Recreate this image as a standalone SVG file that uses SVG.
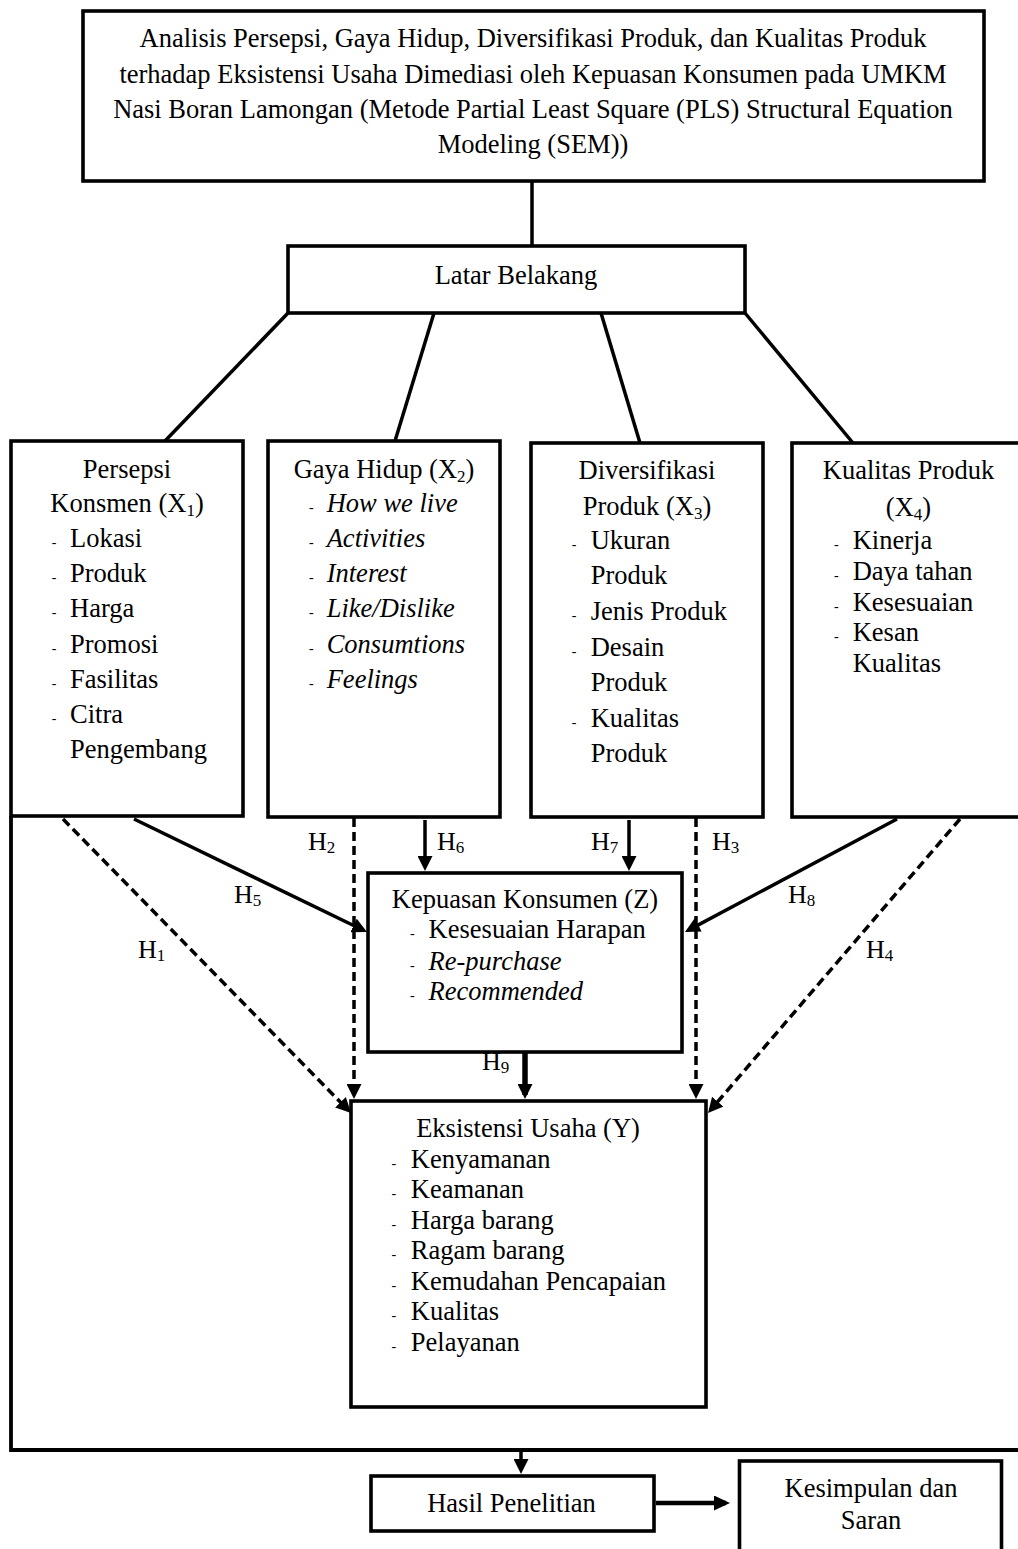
<svg xmlns="http://www.w3.org/2000/svg" width="1018" height="1549" viewBox="0 0 1018 1549">
<style>
.t{font-family:"Liberation Serif","Times New Roman",serif;font-size:26.5px;fill:#000}
.c{text-anchor:middle}
.i{font-style:italic}
.d{font-size:14px;font-style:normal}
.h{font-size:26px}
.sub{font-size:17px}
.box{fill:#fff;stroke:#000;stroke-width:3.6}
.ln{stroke:#000;stroke-width:3.5;fill:none}
.dash{stroke-dasharray:9 5}
</style>
<defs>
<marker id="ah" markerUnits="userSpaceOnUse" markerWidth="15" markerHeight="15" refX="11" refY="7.5" orient="auto">
<path d="M0,0 L15,7.5 L0,15 z" fill="#000"/>
</marker>
<marker id="ahb" markerUnits="userSpaceOnUse" markerWidth="16" markerHeight="15" refX="12" refY="7.5" orient="auto">
<path d="M0,0 L16,7.5 L0,15 z" fill="#000"/>
</marker>
</defs>

<g id="connectors">
<line class="ln" x1="532" y1="181" x2="532" y2="246"/>
<line class="ln" x1="288" y1="313" x2="165" y2="441"/>
<line class="ln" x1="434" y1="313" x2="395" y2="441"/>
<line class="ln" x1="601" y1="313" x2="640" y2="443"/>
<line class="ln" x1="745" y1="313" x2="853" y2="443"/>
<line class="ln dash" x1="63" y1="819" x2="348.2" y2="1110.1" marker-end="url(#ah)"/>
<line class="ln" x1="134" y1="819" x2="363.4" y2="930.3" marker-end="url(#ah)"/>
<line class="ln dash" x1="354" y1="818" x2="354" y2="1095" marker-end="url(#ah)"/>
<line class="ln" x1="425" y1="820" x2="425" y2="867" marker-end="url(#ah)"/>
<line class="ln" x1="629" y1="820" x2="629" y2="867" marker-end="url(#ah)"/>
<line class="ln dash" x1="696" y1="818" x2="696" y2="1095" marker-end="url(#ah)"/>
<line class="ln" x1="897" y1="819" x2="688.5" y2="930.1" marker-end="url(#ah)"/>
<line class="ln dash" x1="960" y1="819" x2="710.6" y2="1110" marker-end="url(#ah)"/>
<line class="ln" style="stroke-width:5.5" x1="525" y1="1053" x2="525" y2="1095" marker-end="url(#ah)"/>
<polyline class="ln" style="stroke-width:3.8" points="11,816 11,1450 1018,1450"/>
<line class="ln" x1="521" y1="1450" x2="521" y2="1470" marker-end="url(#ah)"/>
<line class="ln" style="stroke-width:4.5" x1="656" y1="1503" x2="726" y2="1503" marker-end="url(#ahb)"/>
<text class="t h" x="308" y="850">H<tspan class="sub" dy="3">2</tspan></text>
<text class="t h" x="437" y="850">H<tspan class="sub" dy="3">6</tspan></text>
<text class="t h" x="591" y="850">H<tspan class="sub" dy="3">7</tspan></text>
<text class="t h" x="712" y="850">H<tspan class="sub" dy="3">3</tspan></text>
<text class="t h" x="234" y="903">H<tspan class="sub" dy="3">5</tspan></text>
<text class="t h" x="788" y="903">H<tspan class="sub" dy="3">8</tspan></text>
<text class="t h" x="138" y="958">H<tspan class="sub" dy="3">1</tspan></text>
<text class="t h" x="866" y="958">H<tspan class="sub" dy="3">4</tspan></text>
<text class="t h" x="482" y="1070">H<tspan class="sub" dy="3">9</tspan></text>
</g>

<g id="judul">
<rect class="box" x="83" y="11" width="901" height="170"/>
<text class="t c" x="533" y="47">Analisis Persepsi, Gaya Hidup, Diversifikasi Produk, dan Kualitas Produk</text>
<text class="t c" x="533" y="82.5">terhadap Eksistensi Usaha Dimediasi oleh Kepuasan Konsumen pada UMKM</text>
<text class="t c" x="533" y="118">Nasi Boran Lamongan (Metode Partial Least Square (PLS) Structural Equation</text>
<text class="t c" x="533" y="153">Modeling (SEM))</text>
</g>

<g id="latar-belakang">
<rect class="box" x="288" y="246" width="457" height="67"/>
<text class="t c" x="516" y="284">Latar Belakang</text>
</g>

<g id="persepsi-konsumen">
<rect class="box" x="11" y="441" width="232" height="375"/>
<text class="t c" x="127" y="477.7">Persepsi</text>
<text class="t c" x="127" y="511.7">Konsmen (X<tspan class="sub" dy="4">1</tspan><tspan dy="-4">)</tspan></text>
<text class="t" x="51.7" y="547.3"><tspan class="d">-</tspan><tspan x="70">Lokasi</tspan></text>
<text class="t" x="51.7" y="582.3"><tspan class="d">-</tspan><tspan x="70">Produk</tspan></text>
<text class="t" x="51.7" y="617.3"><tspan class="d">-</tspan><tspan x="70">Harga</tspan></text>
<text class="t" x="51.7" y="652.7"><tspan class="d">-</tspan><tspan x="70">Promosi</tspan></text>
<text class="t" x="51.7" y="687.7"><tspan class="d">-</tspan><tspan x="70">Fasilitas</tspan></text>
<text class="t" x="51.7" y="722.7"><tspan class="d">-</tspan><tspan x="70">Citra</tspan></text>
<text class="t" x="70" y="758.3">Pengembang</text>
</g>

<g id="gaya-hidup">
<rect class="box" x="268" y="441" width="232" height="376"/>
<text class="t c" x="384" y="477.7">Gaya Hidup (X<tspan class="sub" dy="4">2</tspan><tspan dy="-4">)</tspan></text>
<text class="t" x="309" y="511.7"><tspan class="d">-</tspan><tspan class="i" x="326.7">How we live</tspan></text>
<text class="t" x="309" y="547.3"><tspan class="d">-</tspan><tspan class="i" x="326.7">Activities</tspan></text>
<text class="t" x="309" y="582.3"><tspan class="d">-</tspan><tspan class="i" x="326.7">Interest</tspan></text>
<text class="t" x="309" y="617.3"><tspan class="d">-</tspan><tspan class="i" x="326.7">Like/Dislike</tspan></text>
<text class="t" x="309" y="652.7"><tspan class="d">-</tspan><tspan class="i" x="326.7">Consumtions</tspan></text>
<text class="t" x="309" y="687.7"><tspan class="d">-</tspan><tspan class="i" x="326.7">Feelings</tspan></text>
</g>

<g id="diversifikasi-produk">
<rect class="box" x="531" y="443" width="232" height="374"/>
<text class="t c" x="647" y="479.3">Diversifikasi</text>
<text class="t c" x="647" y="515">Produk (X<tspan class="sub" dy="4">3</tspan><tspan dy="-4">)</tspan></text>
<text class="t" x="571.7" y="549.3"><tspan class="d">-</tspan><tspan x="590.7">Ukuran</tspan></text>
<text class="t" x="590.7" y="584.3">Produk</text>
<text class="t" x="571.7" y="620"><tspan class="d">-</tspan><tspan x="590.7">Jenis Produk</tspan></text>
<text class="t" x="571.7" y="656"><tspan class="d">-</tspan><tspan x="590.7">Desain</tspan></text>
<text class="t" x="590.7" y="690.7">Produk</text>
<text class="t" x="571.7" y="726.7"><tspan class="d">-</tspan><tspan x="590.7">Kualitas</tspan></text>
<text class="t" x="590.7" y="761.7">Produk</text>
</g>

<g id="kualitas-produk">
<rect class="box" x="792" y="443" width="240" height="374"/>
<text class="t c" x="908.5" y="479.3">Kualitas Produk</text>
<text class="t c" x="908.5" y="516">(X<tspan class="sub" dy="4">4</tspan><tspan dy="-4">)</tspan></text>
<text class="t" x="834" y="549.3"><tspan class="d">-</tspan><tspan x="852.7">Kinerja</tspan></text>
<text class="t" x="834" y="580"><tspan class="d">-</tspan><tspan x="852.7">Daya tahan</tspan></text>
<text class="t" x="834" y="610.5"><tspan class="d">-</tspan><tspan x="852.7">Kesesuaian</tspan></text>
<text class="t" x="834" y="641"><tspan class="d">-</tspan><tspan x="852.7">Kesan</tspan></text>
<text class="t" x="852.7" y="671.7">Kualitas</text>
</g>

<g id="kepuasan-konsumen">
<rect class="box" x="368" y="873" width="314" height="179"/>
<text class="t c" x="525" y="908.3">Kepuasan Konsumen (Z)</text>
<text class="t" x="410" y="938.3"><tspan class="d">-</tspan><tspan x="428.6">Kesesuaian Harapan</tspan></text>
<text class="t" x="410" y="969.5"><tspan class="d">-</tspan><tspan class="i" x="428.6">Re-purchase</tspan></text>
<text class="t" x="410" y="1000"><tspan class="d">-</tspan><tspan class="i" x="428.6">Recommended</tspan></text>
</g>

<g id="eksistensi-usaha">
<rect class="box" x="351" y="1101" width="355" height="306"/>
<text class="t c" x="528" y="1136.7">Eksistensi Usaha (Y)</text>
<text class="t" x="391.6" y="1167.7"><tspan class="d">-</tspan><tspan x="410.8">Kenyamanan</tspan></text>
<text class="t" x="391.6" y="1198.3"><tspan class="d">-</tspan><tspan x="410.8">Keamanan</tspan></text>
<text class="t" x="391.6" y="1228.8"><tspan class="d">-</tspan><tspan x="410.8">Harga barang</tspan></text>
<text class="t" x="391.6" y="1259"><tspan class="d">-</tspan><tspan x="410.8">Ragam barang</tspan></text>
<text class="t" x="391.6" y="1289.5"><tspan class="d">-</tspan><tspan x="410.8">Kemudahan Pencapaian</tspan></text>
<text class="t" x="391.6" y="1320.2"><tspan class="d">-</tspan><tspan x="410.8">Kualitas</tspan></text>
<text class="t" x="391.6" y="1351"><tspan class="d">-</tspan><tspan x="410.8">Pelayanan</tspan></text>
</g>

<g id="hasil-penelitian">
<rect class="box" x="371" y="1476" width="283" height="55"/>
<text class="t c" x="511.5" y="1511.7">Hasil Penelitian</text>
</g>

<g id="kesimpulan-saran">
<rect class="box" x="739.5" y="1461" width="262" height="110"/>
<text class="t c" x="871" y="1496.5">Kesimpulan dan</text>
<text class="t c" x="871" y="1528.5">Saran</text>
</g>
</svg>
